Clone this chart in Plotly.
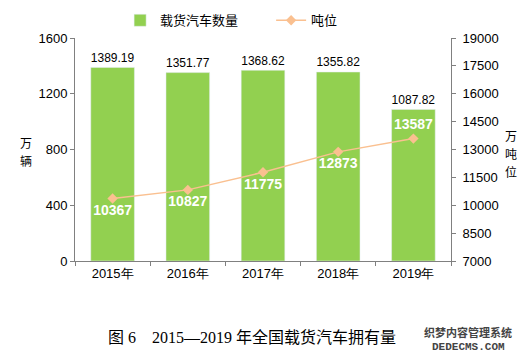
import plotly.graph_objects as go

years = ["2015年", "2016年", "2017年", "2018年", "2019年"]
trucks = [1389.19, 1351.77, 1368.62, 1355.82, 1087.82]
tonnage = [10367, 10827, 11775, 12873, 13587]
left_ticks = [0, 400, 800, 1200, 1600]
right_ticks = [7000, 8500, 10000, 11500, 13000, 14500, 16000, 17500, 19000]

fig = go.Figure()
fig.add_trace(go.Bar(
    x=years, y=trucks, name="载货汽车数量",
    marker=dict(color="#92D050"),
    text=[f"{v:.2f}" for v in trucks], textposition="outside",
    textfont=dict(color="#000000", size=14, family="Liberation Sans, Arial"),
    cliponaxis=False,
))
fig.add_trace(go.Scatter(
    x=years, y=tonnage, name="吨位", yaxis="y2",
    mode="lines+markers+text",
    line=dict(color="#FAC090", width=1.5),
    marker=dict(symbol="diamond", size=8, color="#FAC090"),
    text=[f"<b>{v}</b>" for v in tonnage],
    textposition=["bottom center"] * 4 + ["top center"],
    textfont=dict(color="#FFFFFF", size=14, family="Liberation Sans, Arial"),
))

axis_font = dict(size=13, color="#000000", family="Liberation Sans, Arial")
# page body has an 8px margin; figure is sized/offset to compensate
fig.update_layout(
    width=520, height=352,
    margin=dict(l=67, r=77, t=30, b=99, autoexpand=False),
    paper_bgcolor="white", plot_bgcolor="white",
    bargap=0.42,
    showlegend=True,
    legend=dict(orientation="h", x=0.12, xanchor="left", y=0.965, yanchor="middle",
                yref="container", entrywidth=106,
                font=dict(size=13, color="#000000", family="Noto Sans CJK SC"),
                traceorder="normal"),
    xaxis=dict(type="category", tickson="boundaries", ticks="outside", ticklen=4,
               tickcolor="#808080", showline=True, linecolor="#808080",
               tickfont=axis_font, showgrid=False, automargin=False),
    yaxis=dict(range=[0, 1600], tickvals=left_ticks, ticks="outside", ticklen=4,
               tickcolor="#808080", showline=True, linecolor="#808080",
               tickfont=axis_font, showgrid=False, zeroline=False, automargin=False),
    yaxis2=dict(range=[7000, 19000], tickvals=right_ticks,
                ticktext=[str(v) for v in right_ticks],
                overlaying="y", side="right",
                ticks="outside", ticklen=4, tickcolor="#808080", showline=True,
                linecolor="#808080", tickfont=axis_font, showgrid=False, zeroline=False,
                automargin=False, ticklabelstandoff=4),
)

cjk = dict(size=12, color="#000", family="Noto Sans CJK SC")
# vertical axis titles, one character per annotation (pixel y -> paper via plot area 38..261)
def py(pix):
    return (261 - pix) / 223

for ch, yp in [("万", 142), ("辆", 160)]:
    fig.add_annotation(text=ch, xref="paper", yref="paper", x=(27 - 75) / 368, y=py(yp),
                       showarrow=False, font=cjk, xanchor="center", yanchor="middle",
                       borderpad=0)
for ch, yp in [("万", 135), ("吨", 153), ("位", 171)]:
    fig.add_annotation(text=ch, xref="paper", yref="paper", x=(502 - 75) / 368, y=py(yp),
                       showarrow=False, font=cjk, xanchor="center", yanchor="middle",
                       borderpad=0)

fig.add_annotation(text="图 6　2015—2019 年全国载货汽车拥有量", xref="paper", yref="paper",
                   x=(248 - 75) / 368, y=py(337), yanchor="middle", showarrow=False,
                   font=dict(size=16, color="#000", family="Liberation Serif, Noto Sans CJK SC"))
fig.add_annotation(text="<b>织梦内容管理系统</b>", xref="paper", yref="paper",
                   x=(460 - 75) / 368, y=py(332), yanchor="middle", xanchor="center",
                   showarrow=False,
                   font=dict(size=11, color="#444", family="Noto Sans CJK SC"))
fig.add_annotation(text="<b>DEDECMS.COM</b>", xref="paper", yref="paper",
                   x=(460 - 75) / 368, y=py(347), yanchor="middle", xanchor="center",
                   showarrow=False,
                   font=dict(size=11, color="#444", family="Liberation Mono, DejaVu Sans Mono"))

fig.write_html("out.html")
